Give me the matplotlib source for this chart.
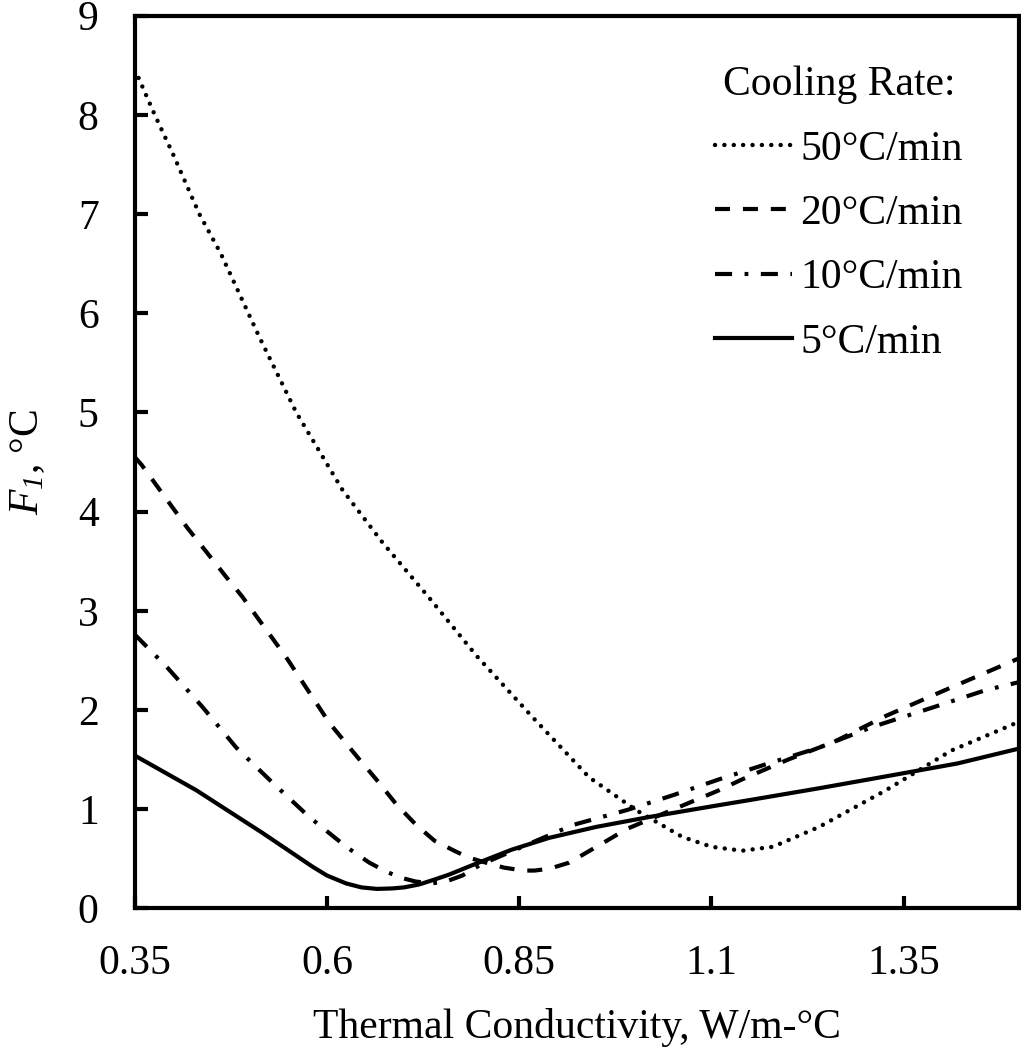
import numpy as np
import matplotlib
matplotlib.use('Agg')
import matplotlib.pyplot as plt

plt.rcParams['font.family'] = ['Liberation Serif', 'DejaVu Serif']
plt.rcParams['mathtext.fontset'] = 'custom'
plt.rcParams['mathtext.rm'] = 'Liberation Serif:italic'
plt.rcParams['mathtext.it'] = 'Liberation Serif:italic'

# values (thermal conductivity vs F1)
x_50 = [0.35, 0.376, 0.40, 0.434, 0.462, 0.512, 0.56, 0.62, 0.672, 0.733, 0.794,
        0.867, 0.941, 1.002, 1.062, 1.10, 1.14, 1.18, 1.24, 1.327, 1.412, 1.5]
y_50 = [8.46, 8.0, 7.6, 7.0, 6.6, 5.76, 5.0, 4.22, 3.69, 3.13, 2.55,
        1.93, 1.32, 0.99, 0.72, 0.62, 0.58, 0.62, 0.82, 1.19, 1.59, 1.88]

x_20 = [0.35, 0.359, 0.418, 0.469, 0.49, 0.547, 0.603, 0.64, 0.664, 0.69, 0.716,
        0.74, 0.768, 0.785, 0.802, 0.83, 0.855, 0.87, 0.89, 0.915, 0.955, 0.99,
        1.07, 1.11, 1.14, 1.2, 1.26, 1.327, 1.404, 1.5]
y_20 = [4.55, 4.47, 3.84, 3.34, 3.14, 2.53, 1.87, 1.52, 1.30, 1.05, 0.84,
        0.68, 0.57, 0.51, 0.47, 0.41, 0.38, 0.38, 0.40, 0.46, 0.64, 0.80,
        1.06, 1.19, 1.30, 1.50, 1.68, 1.94, 2.20, 2.52]

x_10 = [0.35, 0.392, 0.438, 0.482, 0.53, 0.577, 0.625, 0.655, 0.677, 0.695, 0.715,
        0.735, 0.755, 0.776, 0.80, 0.86, 0.92, 0.99, 1.05, 1.11, 1.17, 1.24, 1.31,
        1.39, 1.457, 1.5]
y_10 = [2.76, 2.43, 2.03, 1.62, 1.26, 0.92, 0.62, 0.46, 0.37, 0.31, 0.27,
        0.25, 0.27, 0.33, 0.44, 0.64, 0.84, 0.99, 1.14, 1.30, 1.45, 1.62, 1.83,
        2.03, 2.20, 2.28]

x_5 = [0.35, 0.43, 0.516, 0.56, 0.581, 0.60, 0.625, 0.645, 0.665, 0.685, 0.70,
       0.72, 0.74, 0.759, 0.794, 0.84, 0.889, 0.95, 1.019, 1.11, 1.149, 1.24,
       1.327, 1.42, 1.5]
y_5 = [1.54, 1.19, 0.76, 0.53, 0.42, 0.33, 0.25, 0.21, 0.195, 0.20, 0.21,
       0.24, 0.29, 0.34, 0.45, 0.59, 0.71, 0.82, 0.92, 1.04, 1.09, 1.21,
       1.33, 1.46, 1.61]

labels = ['50°C/min', '20°C/min', '10°C/min', '5°C/min']
x_ticks = [0.35, 0.6, 0.85, 1.1, 1.35]
x_tick_labels = ['0.35', '0.6', '0.85', '1.1', '1.35']
y_ticks = list(range(0, 10))

fig = plt.figure(figsize=(10.21, 10.5), dpi=100)
ax = fig.add_axes([0.132, 0.135, 0.866, 0.85])

lw = 3.0
ax.plot(x_50, y_50, color='black', lw=3.2, linestyle=(0, (0.01, 2.1)),
        dash_capstyle='round', label=labels[0])
ax.plot(x_20, y_20, color='black', lw=lw, linestyle=(0, (3.6, 3.1)), label=labels[1])
ax.plot(x_10, y_10, color='black', lw=lw, linestyle=(0, (4.1, 3.0, 0.9, 3.0)),
        label=labels[2])
ax.plot(x_5, y_5, color='black', lw=lw, linestyle='-', label=labels[3])

ax.set_xlim(0.35, 1.5)
ax.set_ylim(0, 9)
ax.set_xticks(x_ticks)
ax.set_xticklabels(x_tick_labels)
ax.set_yticks(y_ticks)

for s in ax.spines.values():
    s.set_linewidth(3)
ax.tick_params(direction='in', length=9, width=3, labelsize=30, pad=26,
               top=False, right=False)

ax.set_xlabel('Thermal Conductivity, W/m-°C', fontsize=30, labelpad=18)
ax.set_ylabel(r'$F_1$, °C', fontsize=30, labelpad=22)

leg = ax.legend(loc='upper right', bbox_to_anchor=(0.965, 0.972), frameon=False,
                fontsize=30, title='Cooling Rate:', title_fontsize=30,
                handlelength=1.85, handletextpad=0.2, labelspacing=0.62,
                borderaxespad=0.2)

fig.savefig('out.png', dpi=100)
